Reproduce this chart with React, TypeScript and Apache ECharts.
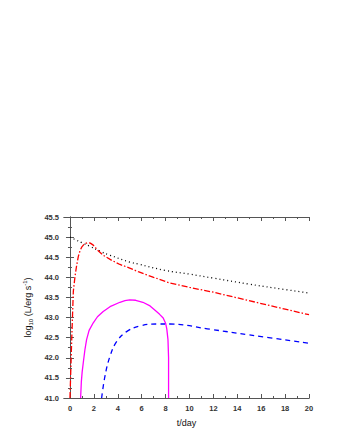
import React, { useEffect, useRef } from "react";
import * as echarts from "echarts";

const xMajor = [0, 2, 4, 6, 8, 10, 12, 14, 16, 18, 20];
const xMinor = [1, 3, 5, 7, 9, 11, 13, 15, 17, 19];

const blackT = [0, 0.5, 1, 1.67, 2.5, 3.34, 5, 5.71, 8, 10, 12, 15, 17, 20];
const blackY = [45.0, 44.93, 44.86, 44.77, 44.65, 44.55, 44.38, 44.33, 44.17, 44.08, 43.98, 43.83, 43.74, 43.61];

const redT = [0, 0.14, 0.28, 0.42, 0.56, 0.7, 0.84, 0.98, 1.2, 1.45, 1.7, 1.95, 2.3, 2.78, 3.5, 4.18, 5, 5.71, 7, 8.35, 10, 12, 14, 16.7, 18, 20];
const redY = [41.0, 42.4, 43.65, 44.02, 44.3, 44.52, 44.66, 44.75, 44.83, 44.86, 44.85, 44.8, 44.68, 44.55, 44.42, 44.32, 44.23, 44.14, 44.0, 43.86, 43.75, 43.63, 43.49, 43.3, 43.21, 43.07];

const magT = [0.89, 0.95, 1.02, 1.11, 1.25, 1.39, 1.6, 1.95, 2.3, 2.78, 3.35, 4.18, 4.6, 5.0, 5.5, 6.1, 6.7, 7.24, 7.5, 7.8, 8.0, 8.1, 8.2, 8.25, 8.25];
const magY = [41.0, 41.4, 41.65, 41.87, 42.2, 42.45, 42.68, 42.87, 43.02, 43.15, 43.27, 43.38, 43.42, 43.44, 43.43, 43.38, 43.29, 43.15, 43.08, 42.99, 42.86, 42.72, 42.45, 42.0, 41.0];

const blueT = [2.65, 2.92, 3.34, 3.9, 4.74, 5.85, 7.24, 8.35, 11.7, 15, 20];
const blueY = [41.0, 41.53, 42.03, 42.4, 42.65, 42.79, 42.84, 42.84, 42.71, 42.57, 42.36];

const zip = (t: number[], y: number[]) => t.map((v, i) => [v, y[i]]);

export default function App() {
  const ref = useRef<HTMLDivElement>(null);
  useEffect(() => {
    document.body.style.margin = "0";
    const chart = echarts.init(ref.current!, null, { renderer: "svg" });
    const axisColor = "#555";
    const labelStyle = { color: "#333", fontSize: 7.5, fontWeight: "bold" as const, fontFamily: "Liberation Sans" };
    const baseX = {
      type: "value" as const,
      min: -0.5,
      max: 20,
      splitLine: { show: false },
      axisLine: { show: true, lineStyle: { color: axisColor, width: 1 } },
    };
    chart.setOption({
      animation: false,
      grid: { left: 64, top: 217, right: 31, bottom: 42 },
      xAxis: [
        {
          ...baseX,
          position: "bottom",
          name: "t/day",
          nameLocation: "middle",
          nameGap: 20,
          nameTextStyle: { color: "#111", fontSize: 9, fontFamily: "Liberation Sans" },
          axisTick: { show: true, inside: true, length: 4, customValues: xMajor, lineStyle: { color: axisColor } },
          axisLabel: { ...labelStyle, margin: 6, customValues: xMajor },
        },
        {
          ...baseX,
          position: "bottom",
          axisTick: { show: true, inside: true, length: 2, customValues: xMinor, lineStyle: { color: axisColor } },
          axisLabel: { show: false },
        },
        {
          ...baseX,
          position: "top",
          axisTick: { show: true, inside: true, length: 4, customValues: xMajor, lineStyle: { color: axisColor } },
          axisLabel: { show: false },
        },
        {
          ...baseX,
          position: "top",
          axisTick: { show: true, inside: true, length: 2, customValues: xMinor, lineStyle: { color: axisColor } },
          axisLabel: { show: false },
        },
      ],
      yAxis: [
        {
          type: "value",
          min: 41,
          max: 45.5,
          interval: 0.5,
          position: "left",
          splitLine: { show: false },
          axisLine: { show: true, lineStyle: { color: axisColor } },
          axisTick: { show: true, inside: true, length: 4, lineStyle: { color: axisColor } },
          minorTick: { show: true, splitNumber: 2, length: 2, lineStyle: { color: axisColor } },
          axisLabel: { ...labelStyle, margin: 5, formatter: (v: number) => v.toFixed(1) },
          name: "log{sub|10} (L/erg s{sup|-1})",
          nameLocation: "middle",
          nameRotate: 90,
          nameGap: 30,
          nameTextStyle: {
            color: "#111",
            fontSize: 9,
            fontFamily: "Liberation Sans",
            lineHeight: 12,
            rich: {
              sub: { fontSize: 6, verticalAlign: "bottom", fontFamily: "Liberation Sans", color: "#111", lineHeight: 12 },
              sup: { fontSize: 6, verticalAlign: "top", fontFamily: "Liberation Sans", color: "#111", lineHeight: 12 },
            },
          },
        },
        {
          type: "value",
          min: 41,
          max: 45.5,
          interval: 0.5,
          position: "right",
          splitLine: { show: false },
          axisLine: { show: true, lineStyle: { color: axisColor } },
          axisTick: { show: true, inside: true, length: 4, lineStyle: { color: axisColor } },
          minorTick: { show: true, splitNumber: 2, length: 2, lineStyle: { color: axisColor } },
          axisLabel: { show: false },
        },
      ],
      series: [
        {
          type: "line",
          data: zip(blackT, blackY),
          smooth: 0.4,
          showSymbol: false,
          lineStyle: { color: "#000", width: 1.3, type: [1, 3] },
        },
        {
          type: "line",
          data: zip(redT, redY),
          smooth: false,
          showSymbol: false,
          lineStyle: { color: "#ff0000", width: 1.3, type: [6, 2, 1.5, 2] },
        },
        {
          type: "line",
          data: zip(magT, magY),
          smooth: false,
          showSymbol: false,
          lineStyle: { color: "#ff00ff", width: 1.3 },
        },
        {
          type: "line",
          data: zip(blueT, blueY),
          smooth: 0.4,
          showSymbol: false,
          lineStyle: { color: "#0000ff", width: 1.3, type: [5, 4] },
        },
      ],
    });
    return () => chart.dispose();
  }, []);
  return <div ref={ref} style={{ width: 340, height: 440 }} />;
}
